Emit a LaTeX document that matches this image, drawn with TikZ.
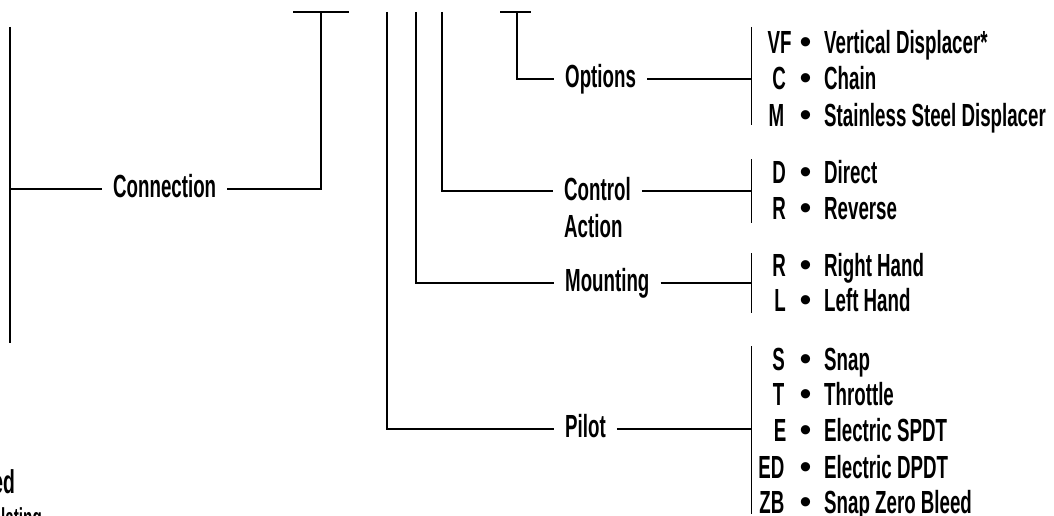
\documentclass[tikz,border=0pt]{standalone}
\usepackage{fontspec}
\setmainfont{Liberation Sans}[FakeStretch=0.585]
\newfontfamily\bulletfont{Liberation Sans}
\begin{document}
\begin{tikzpicture}[x=1pt,y=-1pt,
  wire/.style={line width=1.8pt, line join=miter},
  lab/.style={font=\bfseries\fontsize{32}{36}\selectfont, inner xsep=11pt, inner ysep=0pt, text height=16.8pt, text depth=0pt, anchor=west},
  twolab/.style={font=\bfseries\fontsize{32}{36.3}\selectfont, inner xsep=11pt, inner ysep=0pt, align=left, anchor=north west},
  code/.style={font=\bfseries\fontsize{32}{36}\selectfont, inner sep=0pt, anchor=base},
  codee/.style={font=\bfseries\fontsize{32}{36}\selectfont, inner sep=0pt, anchor=base east},
  bul/.style={font=\bulletfont\fontsize{34}{34}\selectfont, inner sep=0pt, anchor=base},
  desc/.style={font=\bfseries\fontsize{32}{36}\selectfont, inner sep=0pt, anchor=base west},
  cut/.style={font=\bfseries\fontsize{#1}{#1}\selectfont, inner sep=0pt, anchor=base east}]
\useasboundingbox (0,0) rectangle (1054,516);
\clip (0,0) rectangle (1054,516);

% ---------- labels ----------
\node[lab] (conn) at (102,189) {Connection};
\node[lab] (opt) at (554,79) {Options};
\node[twolab] (ctl) at (553,177.5) {Control\\Action};
\node[lab] (mnt) at (554,283) {Mounting};
\node[lab] (pil) at (554,429) {Pilot};

% ---------- coordinates ----------
\coordinate (lvt) at (10,27);
\coordinate (lvb) at (10,343);
\coordinate (t1l) at (293,12);
\coordinate (t1r) at (349,12);
\coordinate (t1) at (321,12);
\coordinate (p0) at (387,12);
\coordinate (m0) at (416,12);
\coordinate (c0) at (442,12);
\coordinate (cj) at (442,191);
\coordinate (t2l) at (500,12);
\coordinate (t2r) at (531,12);
\coordinate (t2) at (517,12);
\coordinate (obt) at (751.5,27);
\coordinate (obb) at (751.5,125);
\coordinate (cbt) at (751.5,159);
\coordinate (cbb) at (751.5,223);
\coordinate (mbt) at (751.5,253);
\coordinate (mbb) at (751.5,313);
\coordinate (pbt) at (751.5,346);
\coordinate (pbb) at (751.5,514);

% ---------- connectors ----------
\draw[wire] (lvt) -- (lvb);
\draw[wire] (lvt |- conn) -- (conn.west);
\draw[wire] (t1l) -- (t1r);
\draw[wire] (conn.east) -- (t1 |- conn) -- (t1);
\draw[wire] (p0) -- (p0 |- pil) -- (pil.west);
\draw[wire] (m0) -- (m0 |- mnt) -- (mnt.west);
\draw[wire] (c0) -- (cj) -- (ctl.west |- cj);
\draw[wire] (t2l) -- (t2r);
\draw[wire] (t2) -- (t2 |- opt) -- (opt.west);

\draw[wire] (obt) -- (obb);
\draw[wire] (cbt) -- (cbb);
\draw[wire] (mbt) -- (mbb);
\draw[wire] (pbt) -- (pbb);
\draw[wire] (opt.east) -- (opt.east -| obt);
\draw[wire] (ctl.east |- cj) -- (cbt |- cj);
\draw[wire] (mnt.east) -- (mnt.east -| mbt);
\draw[wire] (pil.east) -- (pil.east -| pbt);

% ---------- options ----------
\node[code] (vf) at (779.5,53.3) {VF};
\node[bul] (bvf) at (805.5,53.3) {•};
\node[desc] (dvf) at (824,53.3) {Vertical Displacer*};
\node[code] (oc) at (779,89.8) {C};
\node[bul] (boc) at (805.5,89.8) {•};
\node[desc] (doc) at (824,89.8) {Chain};
\node[code] (om) at (776.5,126) {M};
\node[bul] (bom) at (805.5,126) {•};
\node[desc] (dom) at (824,126) {Stainless Steel Displacer};

% ---------- control action ----------
\node[code] (cd) at (779,183.3) {D};
\node[bul] (bcd) at (805.5,183.3) {•};
\node[desc] (dcd) at (824,183.3) {Direct};
\node[code] (cr) at (779,219.3) {R};
\node[bul] (bcr) at (805.5,219.3) {•};
\node[desc] (dcr) at (824,219.3) {Reverse};

% ---------- mounting ----------
\node[code] (mr) at (779,276.7) {R};
\node[bul] (bmr) at (805.5,276.7) {•};
\node[desc] (dmr) at (824,276.7) {Right Hand};
\node[code] (ml) at (780,311.7) {L};
\node[bul] (bml) at (805.5,311.7) {•};
\node[desc] (dml) at (824,311.7) {Left Hand};

% ---------- pilot ----------
\node[code] (ps) at (778.5,370) {S};
\node[bul] (bps) at (805.5,370) {•};
\node[desc] (dps) at (824,370) {Snap};
\node[code] (pt) at (778.5,405.5) {T};
\node[bul] (bpt) at (805.5,405.5) {•};
\node[desc] (dpt) at (824,405.5) {Throttle};
\node[code] (pe) at (780,441.7) {E};
\node[bul] (bpe) at (805.5,441.7) {•};
\node[desc] (dpe) at (824,441.7) {Electric SPDT};
\node[codee] (ped) at (784.5,478) {ED};
\node[bul] (bped) at (805.5,478) {•};
\node[desc] (dped) at (824,478) {Electric DPDT};
\node[codee] (pzb) at (784.5,513) {ZB};
\node[bul] (bpzb) at (805.5,513) {•};
\node[desc] (dpzb) at (824,513) {Snap Zero Bleed};

% ---------- cut-off texts at the lower left ----------
\node[cut=33] (ed) at (15,493) {ed};
\node[cut=26] (lat) at (42,526) {lating};
\end{tikzpicture}
\end{document}
